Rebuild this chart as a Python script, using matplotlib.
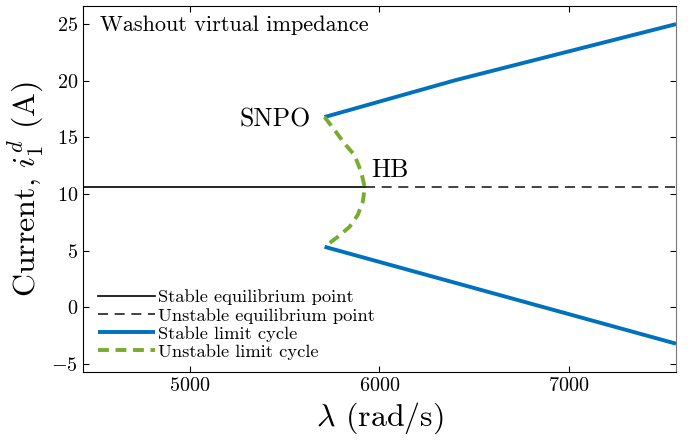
import matplotlib
matplotlib.use("Agg")
import matplotlib.pyplot as plt
import numpy as np

plt.rcParams['font.family'] = 'serif'
plt.rcParams['font.serif'] = ['cmr10']
plt.rcParams['mathtext.fontset'] = 'cm'
plt.rcParams['axes.formatter.use_mathtext'] = True

# Data
eq_stable_x = [4435, 5922]
eq_stable_y = [10.6, 10.6]
eq_unstable_x = [5922, 7565]
eq_unstable_y = [10.6, 10.6]

lc_upper_x = [5710, 6400, 7565]
lc_upper_y = [16.8, 20.05, 25.0]
lc_lower_x = [5710, 6400, 7565]
lc_lower_y = [5.35, 2.17, -3.2]

ulc_x = [5710, 5763, 5815, 5868, 5903, 5922, 5912, 5885, 5842, 5780, 5710]
ulc_y = [16.8, 15.65, 14.47, 13.44, 11.97, 10.6, 9.32, 8.15, 7.11, 6.23, 5.35]

xticks = [5000, 6000, 7000]
yticks = [-5, 0, 5, 10, 15, 20, 25]

fig = plt.figure(figsize=(6.99, 4.43), dpi=100)
ax = fig.add_axes([83/699, 1-372/443, (676-83)/699, (372-6)/443])

blue = '#0072BD'
green = '#77AC30'

ax.plot(eq_stable_x, eq_stable_y, color='black', lw=1.2, label='Stable equilibrium point')
ax.plot(eq_unstable_x, eq_unstable_y, color='#222222', lw=1.2, ls=(0, (6, 4)), label='Unstable equilibrium point')
ax.plot(lc_upper_x, lc_upper_y, color=blue, lw=2.8, label='Stable limit cycle', solid_capstyle='butt')
ax.plot(lc_lower_x, lc_lower_y, color=blue, lw=2.8, solid_capstyle='butt')
ax.plot(ulc_x, ulc_y, color=green, lw=2.8, ls=(0, (2.8, 1.7)), label='Unstable limit cycle',
        solid_joinstyle='round', dash_joinstyle='round')

ax.set_xlim(4435, 7565)
ax.set_ylim(-5.7, 26.6)
ax.set_xticks(xticks)
ax.set_yticks(yticks)
ax.tick_params(direction='in', top=True, right=True, labelsize=14.5, length=4)

ax.set_xlabel(r'$\lambda$ (rad/s)', fontsize=23)
ax.set_ylabel(r'Current, $i_1^d$ (A)', fontsize=23)

ax.text(4525, 24.9, 'Washout virtual impedance', fontsize=16, va='center', ha='left')
ax.text(5635, 16.6, 'SNPO', fontsize=18.5, va='center', ha='right')
ax.text(5955, 12.1, 'HB', fontsize=18.5, va='center', ha='left')

leg = ax.legend(loc='lower left', frameon=False, fontsize=13.3, handlelength=3.1,
                handletextpad=0.2, labelspacing=0.12, borderaxespad=0.0,
                bbox_to_anchor=(0.012, 0.013))

ax.spines['right'].set_color('#777777')

fig.savefig('out.png', dpi=100)
